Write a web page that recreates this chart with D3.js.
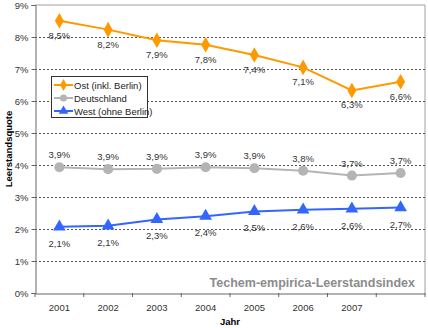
<!DOCTYPE html>
<html><head><meta charset="utf-8">
<script src="https://cdn.jsdelivr.net/npm/d3@7/dist/d3.min.js"></script>
<style>body{margin:0;background:#fff}svg{display:block;font-family:"Liberation Sans",Arial,sans-serif}</style>
</head><body><svg id="c" width="428" height="328"></svg>
<script>
const categories = ["2001","2002","2003","2004","2005","2006","2007","2008"];
const tickLabels = ["2001","2002","2003","2004","2005","2006","2007",""];
const yTicks = [0,1,2,3,4,5,6,7,8,9];
const ost = [8.51,8.23,7.9,7.76,7.44,7.05,6.33,6.6];
const ostLabels = ["8,5%","8,2%","7,9%","7,8%","7,4%","7,1%","6,3%","6,6%"];
const de = [3.93,3.87,3.88,3.93,3.9,3.82,3.67,3.75];
const deLabels = ["3,9%","3,9%","3,9%","3,9%","3,9%","3,8%","3,7%","3,7%"];
const west = [2.07,2.1,2.3,2.4,2.55,2.6,2.63,2.67];
const westLabels = ["2,1%","2,1%","2,3%","2,4%","2,5%","2,6%","2,6%","2,7%"];
const seriesNames = ["Ost (inkl. Berlin)","Deutschland","West (ohne Berlin)"];

const svg = d3.select("#c");
const L=35,R=425,T=5,B=293;
const x = d3.scaleBand().domain(categories).range([L,R]);
const y = d3.scaleLinear().domain([0,9]).range([B,T]);
const cx = d => x(d)+x.bandwidth()/2;

// plot border (top/right)
svg.append("path").attr("d",`M${L},${T}H${R}V${B}`).attr("fill","none").attr("stroke","#a0a0a0");
// gridlines
svg.append("g").selectAll("line").data(yTicks.filter(v=>v>0&&v<9)).join("line")
  .attr("x1",L).attr("x2",R).attr("y1",d=>Math.round(y(d))+0.5).attr("y2",d=>Math.round(y(d))+0.5)
  .attr("stroke","#555").attr("stroke-dasharray","2,2");

// y axis
const ya = svg.append("g").attr("transform",`translate(${L+0.5},0)`)
  .call(d3.axisLeft(y).tickValues(yTicks).tickFormat(d=>d+"%").tickSize(4).tickPadding(3));
ya.select(".domain").attr("stroke","#666");
ya.selectAll(".tick line").attr("stroke","#666");
ya.selectAll("text").attr("fill","#333").attr("font-size",9.5);

// x axis
const xa = svg.append("g").attr("transform",`translate(0,${B+0.5})`)
  .call(d3.axisBottom(x).tickSize(0).tickPadding(11).tickFormat((d,i)=>tickLabels[i]));
xa.select(".domain").attr("stroke","#666");
xa.selectAll("text").attr("fill","#333").attr("font-size",9.5);
svg.append("g").selectAll("line").data(categories.concat(["end"])).join("line")
  .attr("x1",(d,i)=>L+i*x.bandwidth()).attr("x2",(d,i)=>L+i*x.bandwidth())
  .attr("y1",B).attr("y2",B+4).attr("stroke","#666");

// watermark
svg.append("text").attr("x",415).attr("y",287).attr("text-anchor","end")
  .attr("font-size",12.5).attr("font-weight","bold").attr("fill","#8c8c8c")
  .text("Techem-empirica-Leerstandsindex");

const line = d3.line().x((d,i)=>cx(categories[i])).y(d=>y(d));
function series(data,color,shape,labels,dy){
  const g=svg.append("g");
  g.append("path").datum(data).attr("d",line).attr("fill","none").attr("stroke",color).attr("stroke-width",2);
  const sym = d3.symbol().type(shape).size(shape===d3.symbolDiamond?70:(shape===d3.symbolCircle?80:70));
  g.selectAll(".m").data(data).join("path").attr("d",sym)
    .attr("transform",(d,i)=>`translate(${cx(categories[i])},${y(d)})`).attr("fill",color);
  g.selectAll(".l").data(data).join("text")
    .attr("x",(d,i)=>cx(categories[i])).attr("y",d=>y(d)+dy)
    .attr("text-anchor","middle").attr("font-size",9.5).attr("fill","#333")
    .text((d,i)=>labels[i]);
}
series(ost,"#ff9900",d3.symbolDiamond,ostLabels,18);
series(de,"#b4b4b4",d3.symbolCircle,deLabels,-9);
series(west,"#3366ff",d3.symbolTriangle,westLabels,20);

// legend
const lg = svg.append("g");
lg.append("rect").attr("x",51.5).attr("y",76.5).attr("width",96).attr("height",41)
  .attr("fill","#fff").attr("stroke","#333");
const colors=["#ff9900","#b4b4b4","#3366ff"];
const shapes=[d3.symbolDiamond,d3.symbolCircle,d3.symbolTriangle];
seriesNames.forEach((n,i)=>{
  const yy=85+i*13;
  lg.append("line").attr("x1",54).attr("x2",73).attr("y1",yy).attr("y2",yy).attr("stroke",colors[i]).attr("stroke-width",2);
  lg.append("path").attr("d",d3.symbol().type(shapes[i]).size(40)).attr("transform",`translate(63.5,${yy})`).attr("fill",colors[i]);
  lg.append("text").attr("x",74).attr("y",yy+3.5).attr("font-size",9.5).attr("fill","#222").text(n);
});

// axis titles
svg.append("text").attr("transform","translate(12,149) rotate(-90)").attr("text-anchor","middle")
  .attr("font-size",9.5).attr("font-weight","bold").attr("fill","#000").text("Leerstandsquote");
svg.append("text").attr("x",230).attr("y",325).attr("text-anchor","middle")
  .attr("font-size",9.5).attr("font-weight","bold").attr("fill","#000").text("Jahr");
</script></body></html>
